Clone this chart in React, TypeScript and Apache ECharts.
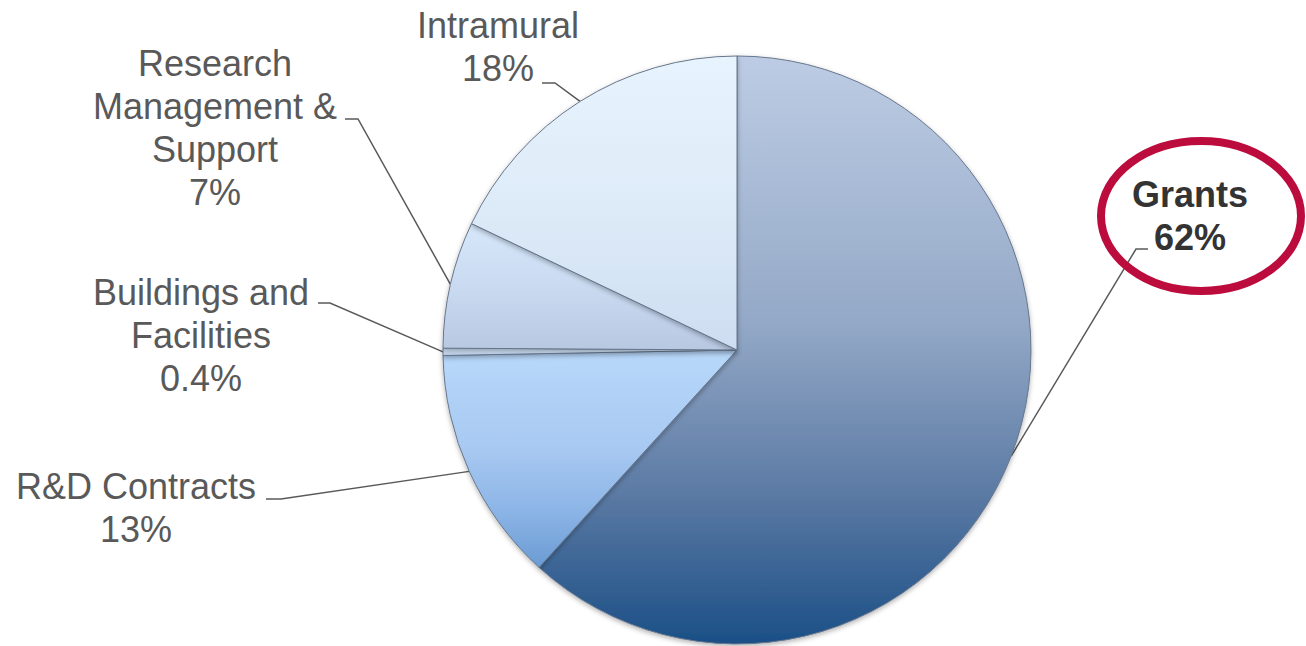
import React, { useEffect, useRef } from "react";
import * as echarts from "echarts";

const categories = [
  "Grants",
  "R&D Contracts",
  "Buildings and\nFacilities",
  "Research\nManagement &\nSupport",
  "Intramural",
];
const values = [62, 13, 0.4, 7, 18];

// slice colour gradients (top -> bottom)
const gradients: string[][] = [
  ["#bdcce4", "#94a9c7", "#5a79a3", "#1b4f86"],
  ["#b8d8fb", "#a8c9f1", "#8bb4e6", "#6a9bd3"],
  ["#d4e5f8", "#cadcf2", "#c3d5ee", "#bccde6"],
  ["#d6e7fa", "#cbdcf2", "#c1d1ea", "#b8c8e1"],
  ["#e7f3fd", "#dfecf9", "#d6e5f5", "#cddcf0"],
];

// label placement: text centre, knee of the leader, end of leader beside text
const labelPlacement = [
  { cx: 1190, cy: 216, knee: [1136, 249], end: [1148, 249] },
  { cx: 136, cy: 508, knee: [281, 499], end: [266, 499] },
  { cx: 201, cy: 335, knee: [330, 303], end: [318, 303] },
  { cx: 215, cy: 128, knee: [358, 119], end: [345, 119] },
  { cx: 498, cy: 47, knee: [555, 83], end: [542, 83] },
];

const CENTER: [number, number] = [737, 350];
const RADIUS = 294;

export default function App() {
  const ref = useRef<HTMLDivElement>(null);

  useEffect(() => {
    if (!ref.current) return;
    const chart = echarts.init(ref.current, null, { renderer: "svg" });

    const total = values.reduce((a, b) => a + b, 0);
    const midAngles: number[] = [];
    let acc = 0;
    values.forEach((v) => {
      const a = (v / total) * 360;
      midAngles.push(acc + a / 2);
      acc += a;
    });

    const data = categories.map((name, i) => {
      const g = gradients[i];
      const item: any = {
        name,
        value: values[i],
        itemStyle: {
          color: new echarts.graphic.LinearGradient(0, 0, 0, 1, [
            { offset: 0, color: g[0] },
            { offset: 0.45, color: g[1] },
            { offset: 0.75, color: g[2] },
            { offset: 1, color: g[3] },
          ]),
        },
      };
      if (i === 0) {
        item.label = { fontWeight: "bold", color: "#333333" };
      }
      return item;
    });

    chart.setOption({
      animation: false,
      backgroundColor: "#ffffff",
      graphic: [
        {
          type: "ellipse",
          shape: { cx: 1201, cy: 216, rx: 100, ry: 75 },
          style: { fill: "none", stroke: "#bc0c3e", lineWidth: 8 },
          z: 10,
        },
      ],
      series: [
        {
          type: "pie",
          center: CENTER,
          radius: RADIUS,
          startAngle: 90,
          clockwise: true,
          avoidLabelOverlap: false,
          data,
          itemStyle: {
            borderColor: "#66768c",
            borderWidth: 1,
            shadowBlur: 5,
            shadowColor: "rgba(0,0,0,0.3)",
            shadowOffsetY: 2,
          },
          emphasis: { disabled: true },
          label: {
            show: true,
            position: "outside",
            formatter: (p: any) => `${p.name}\n${p.value}%`,
            color: "#595959",
            fontSize: 36,
            lineHeight: 43,
            fontFamily: "'Liberation Sans', Arial, sans-serif",
            align: "center",
          },
          labelLine: {
            show: true,
            length: 10,
            length2: 10,
            lineStyle: { color: "#595959", width: 1.5 },
          },
          labelLayout: (params: any) => {
            const i = params.dataIndex;
            const pl = labelPlacement[i];
            const ang = (midAngles[i] * Math.PI) / 180;
            const edge = [
              CENTER[0] + RADIUS * Math.sin(ang),
              CENTER[1] - RADIUS * Math.cos(ang),
            ];
            return {
              x: pl.cx,
              y: pl.cy,
              align: "center",
              verticalAlign: "middle",
              labelLinePoints: [edge, pl.knee, pl.end],
            };
          },
        },
      ],
    });

    return () => chart.dispose();
  }, []);

  return (
    <div
      ref={ref}
      style={{
        position: "fixed",
        left: 0,
        top: 0,
        width: 1306,
        height: 646,
        background: "#fff",
      }}
    />
  );
}
